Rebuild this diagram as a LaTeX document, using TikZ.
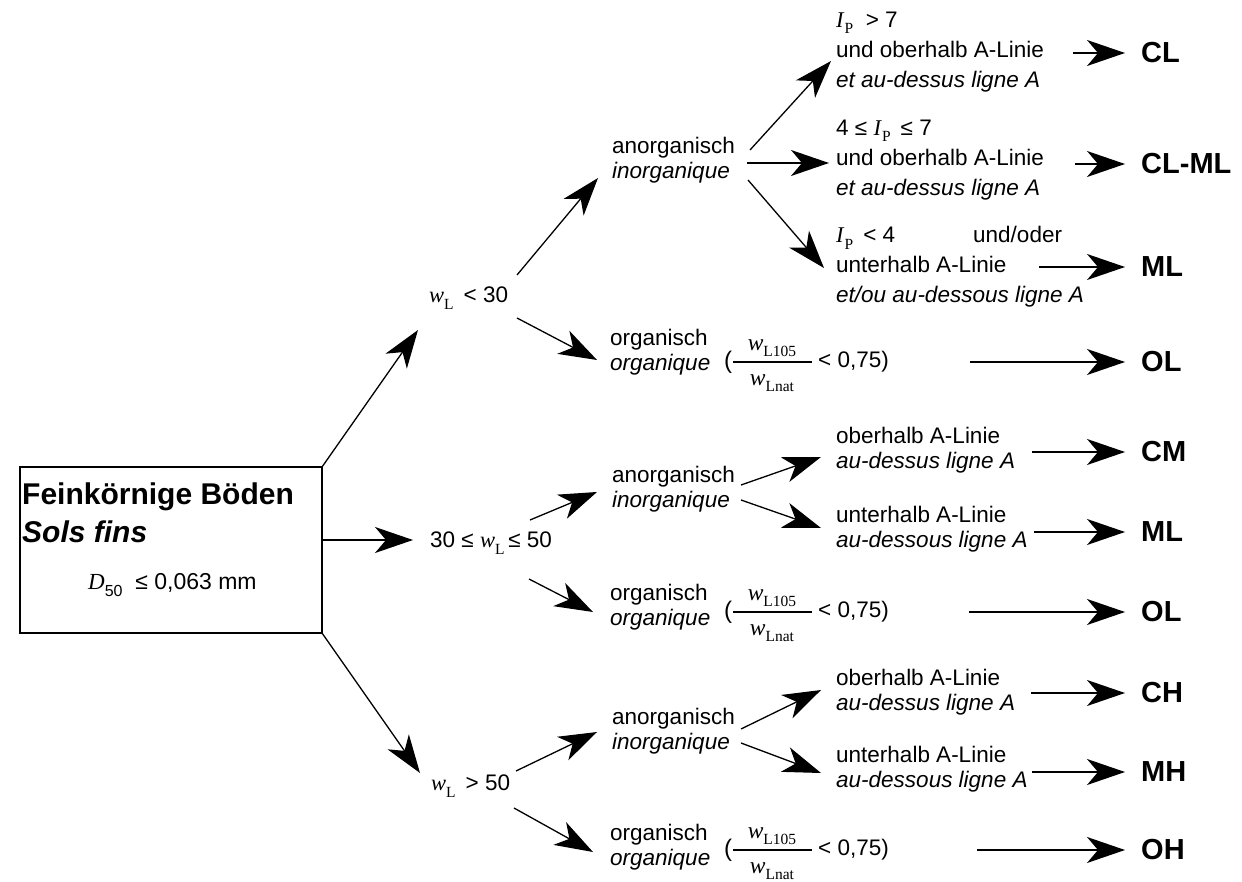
\documentclass[tikz,border=0pt]{standalone}
\usepackage{fontspec}
\setmainfont{Liberation Sans}
\newfontfamily\tms{Liberation Serif}
\usetikzlibrary{arrows.meta}
\newcommand\subt[1]{\raisebox{-0.28em}{\tms\fontsize{15.5}{15.5}\selectfont #1}}
\newcommand\subs[1]{\raisebox{-0.28em}{\fontsize{16}{16}\selectfont #1}}
\newcommand\vw{{\tms\itshape w}\subt{L}}
\newcommand\vI{{\tms\itshape I}\kern1pt\subt{P}}
\newcommand\vwx[1]{{\tms\itshape w}\subt{#1}}
\begin{document}
\begin{tikzpicture}[x=1pt,y=-1pt,
  arr/.style={line width=1.3pt, -{Stealth[length=38pt,width=26pt,inset=11pt]}},
  txt/.style={font=\fontsize{22.5}{30}\selectfont, inner sep=0pt, anchor=west, align=left},
  txtb/.style={font=\fontsize{22.5}{24.5}\selectfont, inner sep=0pt, anchor=west, align=left},
  res/.style={font=\fontsize{29}{30}\selectfont\bfseries, inner sep=0pt, anchor=west},
  big/.style={font=\fontsize{30}{34}\selectfont\bfseries, inner sep=0pt, anchor=west},
  frc/.style={font=\fontsize{23.5}{25}\selectfont, inner sep=0pt},
  bar/.style={line width=1.1pt},
]
\useasboundingbox (0,0) rectangle (1242,882);

% main box
\node[draw, line width=2pt, minimum width=302pt, minimum height=166pt, inner sep=0pt] (box) at (171,550) {};
\node[big] (b1) at (22,497) {Feinkörnige Böden};
\node[big, font=\fontsize{30}{34}\selectfont\bfseries\itshape] (b2) at (22,532) {Sols fins};
\node[txt, font=\fontsize{23}{25}\selectfont] (b3) at (88,585) {{\tms\itshape D}\subs{50}\ \ ≤ 0,063 mm};

% level 1
\node[txt] (c1) at (429,298) {\vw\ \,< 30};
\node[txt] (c2) at (430,543) {30 ≤ \vw\,≤ 50};
\node[txt] (c3) at (431,786) {\vw\ \,> 50};

\coordinate (a1s) at (322,467); \coordinate (a1e) at (418,330);
\coordinate (a2s) at (322,540); \coordinate (a2e) at (413,540);
\coordinate (a3s) at (322,633); \coordinate (a3e) at (420,773);
\draw[arr] (a1s) -- (a1e);
\draw[arr] (a2s) -- (a2e);
\draw[arr] (a3s) -- (a3e);

% level 2
\node[txtb] (an1) at (612,160) {anorganisch\\\textit{inorganique}};
\node[txtb] (an2) at (612,489) {anorganisch\\\textit{inorganique}};
\node[txtb] (an3) at (612,731) {anorganisch\\\textit{inorganique}};

\node[txtb] (or1) at (610,352) {organisch\\\textit{organique}};
\node[txtb] (or2) at (610,607) {organisch\\\textit{organique}};
\node[txtb] (or3) at (610,847) {organisch\\\textit{organique}};

% fractions (bar height \y)
\foreach \n/\y in {1/362,2/612,3/850}{
  \node[txt, font=\fontsize{24}{26}\selectfont] (pa\n) at (724,\y) {(};
  \node[frc] (nu\n) at (772,\y-14) {\vwx{L105}};
  \node[frc] (de\n) at (772,\y+21) {\vwx{Lnat}};
  \coordinate (bl\n) at (733,\y); \coordinate (br\n) at (812,\y);
  \draw[bar] (bl\n) -- (br\n);
  \node[txt] (lt\n) at (818,\y) {< 0,75)};
}

\coordinate (b1s) at (517,275); \coordinate (b1e) at (598,178);
\coordinate (b2s) at (517,318); \coordinate (b2e) at (597,360);
\coordinate (b3s) at (530,520); \coordinate (b3e) at (597,492);
\coordinate (b4s) at (529,579); \coordinate (b4e) at (593,612);
\coordinate (b5s) at (516,771); \coordinate (b5e) at (597,732);
\coordinate (b6s) at (514,808); \coordinate (b6e) at (593,852);
\foreach \i in {1,...,6}{\draw[arr] (b\i s) -- (b\i e);}

% level 3
\node[txt] (d1) at (836,52) {\vI\ \ > 7\\und oberhalb A-Linie\\\textit{et au-dessus ligne A}};
\node[txt] (d2) at (836,160) {4 ≤ \vI\ \,≤ 7\\und oberhalb A-Linie\\\textit{et au-dessus ligne A}};
\node[txt] (d3) at (836,267) {\makebox[137pt][l]{\vI\ \,< 4}und/oder\\unterhalb A-Linie\\\textit{et/ou au-dessous ligne A}};
\node[txtb] (e1) at (836,450) {oberhalb A-Linie\\\textit{au-dessus ligne A}};
\node[txtb] (e2) at (836,529) {unterhalb A-Linie\\\textit{au-dessous ligne A}};
\node[txtb] (e3) at (836,692) {oberhalb A-Linie\\\textit{au-dessus ligne A}};
\node[txtb] (e4) at (836,769) {unterhalb A-Linie\\\textit{au-dessous ligne A}};

\coordinate (c1s) at (750,150); \coordinate (c1e) at (831,61);
\coordinate (c2s) at (747,163); \coordinate (c2e) at (829,163);
\coordinate (c3s) at (748,180); \coordinate (c3e) at (824,268);
\coordinate (c4s) at (741,485); \coordinate (c4e) at (821,457);
\coordinate (c5s) at (741,500); \coordinate (c5e) at (821,528);
\coordinate (c6s) at (741,729); \coordinate (c6e) at (821,690);
\coordinate (c7s) at (741,743); \coordinate (c7e) at (821,773);
\foreach \i in {1,...,7}{\draw[arr] (c\i s) -- (c\i e);}

% results
\node[res] (r1) at (1141,53) {CL};
\node[res] (r2) at (1141,164) {CL-ML};
\node[res] (r3) at (1141,267) {ML};
\node[res] (r4) at (1141,362) {OL};
\node[res] (r5) at (1141,452) {CM};
\node[res] (r6) at (1141,532) {ML};
\node[res] (r7) at (1141,612) {OL};
\node[res] (r8) at (1141,693) {CH};
\node[res] (r9) at (1141,772) {MH};
\node[res] (r10) at (1141,850) {OH};

\foreach \i/\x in {1/1073,2/1075,3/1039,4/970,5/1032,6/1034,7/969,8/1031,9/1032,10/977}{
  \coordinate (rs\i) at (\x,0 |- r\i.west);
  \draw[arr] (rs\i) -- ([xshift=-16pt]r\i.west);
}
\end{tikzpicture}
\end{document}
